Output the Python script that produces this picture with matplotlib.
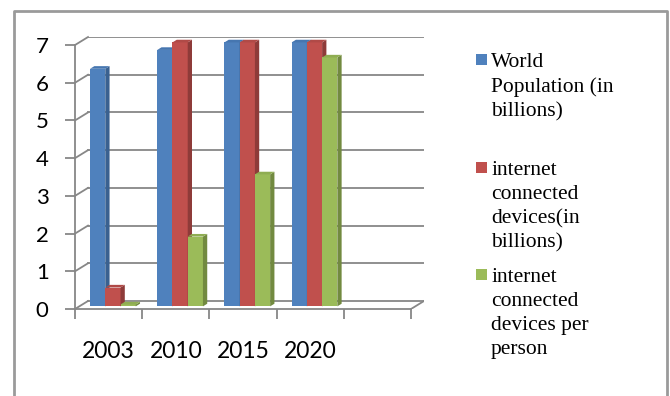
import matplotlib.pyplot as plt
from matplotlib.patches import Polygon, Rectangle
from matplotlib.lines import Line2D

years = ["2003", "2010", "2015", "2020", ""]
population = [6.3, 6.8, 7.0, 7.0]
devices = [0.5, 7.0, 7.0, 7.0]
per_person = [0.05, 1.85, 3.5, 6.6]
series = [population, devices, per_person]
labels = ["World\nPopulation (in\nbillions)",
          "internet\nconnected\ndevices(in\nbillions)",
          "internet\nconnected\ndevices per\nperson"]
front_col = ["#4F81BD", "#C0504D", "#9BBB59"]
side_col = ["#3A6190", "#8E3B39", "#728A40"]
top_col = ["#4676B0", "#B04A47", "#8FAD52"]

W, H = 670, 396
fig = plt.figure(figsize=(W / 100, H / 100), dpi=100)

# chart border (no bottom edge visible)
fig.add_artist(Line2D([14 / W, 14 / W, 667 / W, 667 / W],
                      [0, 1 - 11 / H, 1 - 11 / H, 0],
                      transform=fig.transFigure, color="#9a9a9a", lw=2))

slot_px = 67.2
unit_px = 37.71
DX = 13 / slot_px
DY = 8 / unit_px
nslot = len(years)
ax = fig.add_axes([75 / W, (H - 309) / H, (nslot * slot_px + 13) / W, (7 * unit_px + 8) / H])
ax.set_xlim(0, nslot + DX)
ax.set_ylim(0, 7 + DY)
ax.patch.set_visible(False)

grid = "#878787"
for v in range(8):
    ax.plot([DX, nslot + DX], [v + DY, v + DY], color=grid, lw=1.3, zorder=1)
    ax.plot([0, DX], [v, v + DY], color=grid, lw=1.3, zorder=1, clip_on=False)
ax.plot([nslot, nslot + DX], [0, DY], color=grid, lw=1.3, zorder=1)

for s in ["top", "right"]:
    ax.spines[s].set_visible(False)
for s in ["left", "bottom"]:
    ax.spines[s].set_color(grid)
    ax.spines[s].set_linewidth(1.3)
ax.spines["left"].set_bounds(0, 7)
ax.spines["bottom"].set_bounds(0, nslot)

ax.set_yticks(range(8))
ax.set_yticklabels([str(v) for v in range(8)])
ax.tick_params(axis="y", length=7, width=1.3, color=grid, pad=12,
               labelsize=16, labelfontfamily="Lato")
ax.set_xticks(range(nslot + 1))
ax.set_xticklabels([])
ax.set_xticks([i + 0.5 for i in range(nslot)], minor=True)
ax.set_xticklabels(years, minor=True)
ax.tick_params(axis="x", which="major", length=7, width=1.3, color=grid)
ax.tick_params(axis="x", which="minor", length=0, pad=23,
               labelsize=16.5, labelfontfamily="Lato")

# pseudo-3D bars
ox, oy = 0.33 * DX, 0.33 * DY
bd_x, bd_y = 0.33 * DX, 0.33 * DY
gap = 0.16
bw = (1 - 2 * gap) / 3
z = 3
for i in range(len(population)):
    for k, vals in enumerate(series):
        v = vals[i]
        x0 = i + gap + k * bw + ox
        ax.bar(x0, v, width=bw, bottom=oy, align="edge", color=front_col[k],
               lw=0, zorder=z)
        ax.add_patch(Polygon([(x0 + bw, oy), (x0 + bw + bd_x, oy + bd_y),
                              (x0 + bw + bd_x, oy + v + bd_y), (x0 + bw, oy + v)],
                             closed=True, color=side_col[k], lw=0, zorder=z))
        ax.add_patch(Polygon([(x0, oy + v), (x0 + bw, oy + v),
                              (x0 + bw + bd_x, oy + v + bd_y), (x0 + bd_x, oy + v + bd_y)],
                             closed=True, color=top_col[k], lw=0, zorder=z))
        z += 1

# legend
leg_y = [53, 161, 268]
for k, lab in enumerate(labels):
    fig.add_artist(Rectangle((476 / W, 1 - 65 / H - (leg_y[k] - 53) / H), 11 / W, 11 / H,
                             transform=fig.transFigure, color=front_col[k], lw=0))
    fig.text(491 / W, 1 - leg_y[k] / H, lab, ha="left", va="top",
             family="Liberation Serif", fontsize=15.5, linespacing=1.36)

fig.savefig("out.png", dpi=100)
